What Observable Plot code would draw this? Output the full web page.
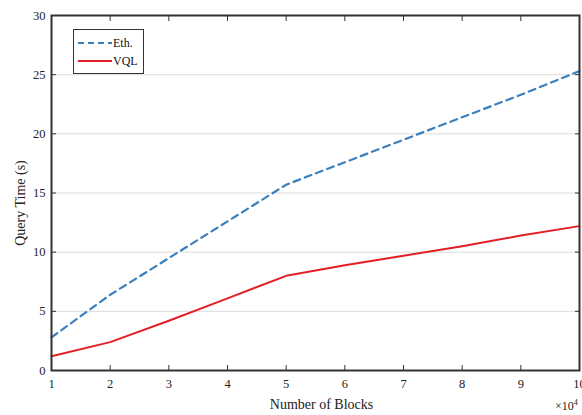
<!DOCTYPE html>
<html><head><meta charset="utf-8">
<script src="https://cdn.jsdelivr.net/npm/d3@7"></script>
<script src="https://cdn.jsdelivr.net/npm/@observablehq/plot@0.6"></script>
<style>
body{margin:0;background:#fff;}
#wrap{position:relative;width:582px;height:415px;font-family:"Liberation Serif","Times New Roman",serif;}
#legend{position:absolute;left:73px;top:29px;width:69px;height:43px;border:1.5px solid #333;background:#fff;font-size:12px;color:#111;}
#legend div{position:absolute;left:4px;height:14px;display:flex;align-items:center;}
#legend svg{margin-right:1px;}
#exp{position:absolute;left:555px;top:398px;font-size:12px;color:#222;}
#exp sup{font-size:8px;}
</style>
</head><body>
<div id="wrap">
<div id="chart"></div>
<div id="legend">
 <div style="top:6px"><svg width="34" height="6"><line x1="0" y1="3" x2="34" y2="3" stroke="#3b7fbc" stroke-width="2.2" stroke-dasharray="6,4"/></svg>Eth.</div>
 <div style="top:24px"><svg width="34" height="6"><line x1="0" y1="3" x2="34" y2="3" stroke="#e31f26" stroke-width="2"/></svg>VQL</div>
</div>
<div id="exp">×10<sup>4</sup></div>
</div>
<script>
const blocks = [1,2,3,4,5,6,7,8,9,10];
const eth = [2.8,6.4,9.5,12.6,15.7,17.6,19.5,21.4,23.3,25.3];
const vql = [1.2,2.4,4.2,6.1,8.0,8.9,9.7,10.5,11.4,12.2];
const yTicks = [0,5,10,15,20,25,30];
const xTicks = [1,2,3,4,5,6,7,8,9,10];

const data = [];
blocks.forEach((b,i)=>{data.push({x:b,y:eth[i],s:"Eth."});data.push({x:b,y:vql[i],s:"VQL"});});

const chart = Plot.plot({
  width:582, height:415,
  marginLeft:51, marginRight:3, marginTop:15, marginBottom:45,
  style:{fontFamily:'"Liberation Serif","Times New Roman",serif', fontSize:"12px", color:"#222", background:"#fff"},
  x:{domain:[1,10]},
  y:{domain:[0,30]},
  marks:[
    Plot.gridY(yTicks,{stroke:"#ddd", strokeOpacity:1, strokeWidth:1}),
    Plot.axisY(yTicks,{anchor:"left", tickSize:0, tickPadding:6, label:null, fontSize:12.5}),
    Plot.axisX(xTicks,{anchor:"bottom", tickSize:0, tickPadding:9, label:null, fontSize:12.5}),
    Plot.axisY(yTicks,{anchor:"left", tickSize:-5, text:null, label:null, stroke:"#333"}),
    Plot.axisY(yTicks,{anchor:"right", tickSize:-5, text:null, label:null, stroke:"#333"}),
    Plot.axisX(xTicks,{anchor:"bottom", tickSize:-5, text:null, label:null, stroke:"#333"}),
    Plot.axisX(xTicks,{anchor:"top", tickSize:-5, text:null, label:null, stroke:"#333"}),
    Plot.line(data.filter(d=>d.s==="Eth."),{x:"x",y:"y",stroke:"#3b7fbc",strokeWidth:2.2,strokeDasharray:"7,5"}),
    Plot.line(data.filter(d=>d.s==="VQL"),{x:"x",y:"y",stroke:"#e31f26",strokeWidth:2}),
    Plot.frame({stroke:"#333", strokeWidth:2}),
    Plot.text(["Number of Blocks"],{frameAnchor:"bottom", dy:38, dx:6, fontSize:14, fill:"#222"}),
    Plot.text(["Query Time (s)"],{frameAnchor:"left", dx:-31, dy:10, rotate:-90, textAnchor:"middle", fontSize:14, fill:"#222"})
  ]
});
document.getElementById("chart").appendChild(chart);
</script>
</body></html>
